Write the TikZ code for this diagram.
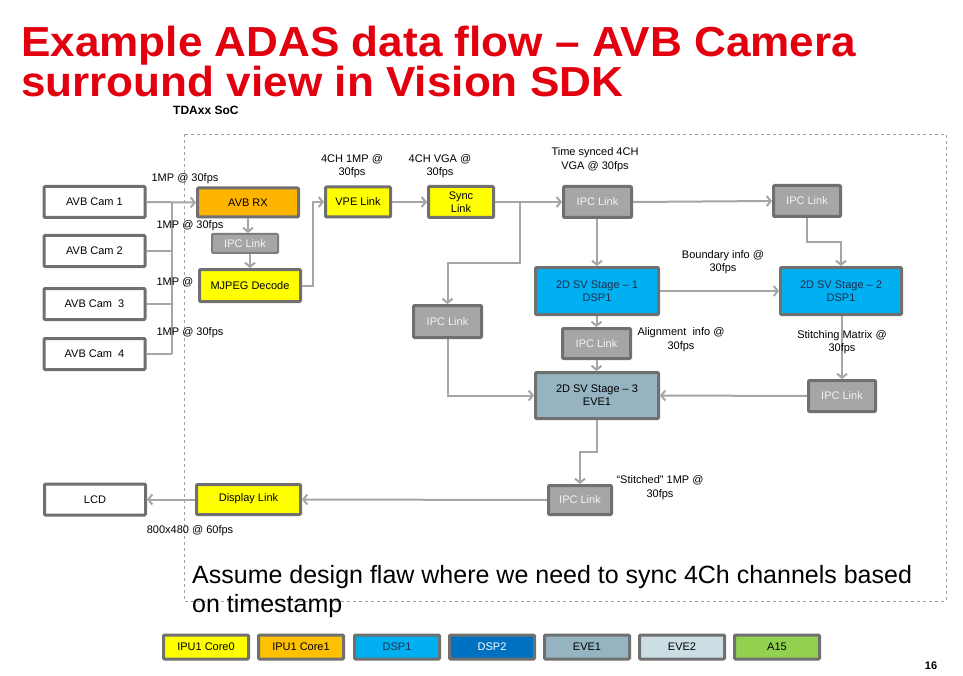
\documentclass[tikz,border=0pt]{standalone}
\usepackage{fontspec}
\setmainfont{Liberation Sans}
\usetikzlibrary{arrows.meta,calc}
\definecolor{bordc}{HTML}{707070}
\definecolor{ipcfill}{HTML}{A6A6A6}
\definecolor{ipctext}{HTML}{F2F2F2}
\definecolor{arrc}{HTML}{A6A6A6}
\definecolor{yel}{HTML}{FFFF00}
\definecolor{orng}{HTML}{FFB400}
\definecolor{orngl}{HTML}{FFC000}
\definecolor{cyanb}{HTML}{00B0F0}
\definecolor{blueb}{HTML}{0070C0}
\definecolor{eveone}{HTML}{95B3C1}
\definecolor{evetwo}{HTML}{CCDDE3}
\definecolor{agreen}{HTML}{92D050}
\definecolor{navyt}{HTML}{1F2F50}
\definecolor{titred}{HTML}{E2000F}
\definecolor{dashc}{HTML}{A0A0A0}
\newcommand\myfs[2]{\fontsize{#1}{#2}\selectfont}
\begin{document}
\begin{tikzpicture}[x=1pt,y=-1pt,
  box/.style={draw=bordc, line width=3pt, rounded corners=1pt, inner sep=0pt,
    font=\myfs{11}{13}, align=center, text=black},
  camb/.style={box, fill=white, minimum width=101pt, minimum height=31pt},
  ipc/.style={box, fill=ipcfill, text=ipctext},
  yelb/.style={box, fill=yel},
  dspb/.style={box, fill=cyanb, text=navyt},
  leg/.style={box, minimum width=85pt, minimum height=24pt},
  conn/.style={draw=arrc, line width=2pt, -{Straight Barb[length=4pt,width=10pt]}},
  wire/.style={draw=arrc, line width=2pt},
  lbl/.style={font=\myfs{11}{13.5}, align=center, inner sep=0pt}]
\useasboundingbox (0,0) rectangle (963,676);
\fill[white] (0,0) rectangle (963,676);

% title
\node[anchor=base west, inner sep=0pt, text=titred] (t1) at (21,57)
  {\scalebox{1.05}[1]{\myfs{42}{46}\bfseries Example ADAS data flow – AVB Camera}};
\node[anchor=base west, inner sep=0pt, text=titred] (t2) at (21,97)
  {\scalebox{1.05}[1]{\myfs{42}{46}\bfseries surround view in Vision SDK}};
\node[anchor=base west, inner sep=0pt, font=\myfs{12}{14}\bfseries] (soc) at (173,115) {TDAxx SoC};

% SoC boundary
\draw[dashc, dashed, line width=0.6pt] (184,134) rectangle (946,601);

% nodes
\node[camb] (cam1) at (94.5,202) {AVB Cam 1};
\node[camb] (cam2) at (94.5,251) {AVB Cam 2};
\node[camb] (cam3) at (94.5,304) {AVB Cam\ \ 3};
\node[camb] (cam4) at (94.5,354) {AVB Cam\ \ 4};
\node[box, fill=orng, minimum width=101pt, minimum height=29pt] (avbrx) at (248,202.5) {AVB RX};
\node[ipc, line width=2pt, draw=bordc!90, minimum width=66pt, minimum height=19pt] (ipcs) at (245,243.5) {IPC Link};
\node[yelb, minimum width=101pt, minimum height=32pt] (mjpeg) at (250,285.5) {MJPEG Decode};
\node[yelb, minimum width=65pt, minimum height=30pt] (vpe) at (358,202) {VPE Link};
\node[yelb, minimum width=65pt, minimum height=31pt] (sync) at (461,202) {Sync\\Link};
\node[ipc, minimum width=68pt, minimum height=31pt] (ipc1) at (597.5,202) {IPC Link};
\node[ipc, minimum width=67pt, minimum height=31pt] (ipc2) at (807,201) {IPC Link};
\node[dspb, minimum width=123pt, minimum height=47pt] (sv1) at (597,291) {2D SV Stage – 1\\DSP1};
\node[dspb, minimum width=121pt, minimum height=47pt] (sv2) at (841,291) {2D SV Stage – 2\\DSP1};
\node[ipc, minimum width=68pt, minimum height=32pt] (ipcl) at (447.5,321.5) {IPC Link};
\node[ipc, minimum width=68pt, minimum height=30pt] (ipcm) at (596.5,343.5) {IPC Link};
\node[box, fill=eveone, minimum width=123pt, minimum height=46pt] (sv3) at (597,395.5) {2D SV Stage – 3\\EVE1};
\node[ipc, minimum width=67pt, minimum height=31pt] (ipcr) at (842,396) {IPC Link};
\node[ipc, minimum width=63pt, minimum height=29pt] (ipcb) at (580,500) {IPC Link};
\node[yelb, minimum width=104pt, minimum height=30pt] (disp) at (248.5,499.5) {\raisebox{4pt}{Display Link}};
\node[camb] (lcd) at (95,499.5) {LCD};

% camera bus
\coordinate (bt) at (172,202);
\coordinate (bb) at (172,354);
\draw[conn] (cam1.east) -- (avbrx.west);
\draw[wire] (bt) -- (bb);
\draw[wire] (cam2.east) -- (cam2.east -| bt);
\draw[wire] (cam3.east) -- (cam3.east -| bt);
\draw[wire] (cam4.east) -- (cam4.east -| bt);

\draw[conn] (avbrx.south) -- (avbrx.south |- ipcs.north);
\draw[conn] (ipcs.south -| mjpeg.north) -- (mjpeg.north);
\draw[conn] (mjpeg.east) -- ++(11,0) |- (vpe.west);
\draw[conn] (vpe.east) -- (sync.west);
\draw[conn] (sync.east) -- (ipc1.west);
\coordinate (br) at (520,202);
\draw[conn] (br) -- (520,263) -| (ipcl.north);
\draw[conn] (ipc1.south -| sv1.north) -- (sv1.north);
\draw[conn] (ipc1.east) -- (ipc2.west);
\draw[conn] (ipc2.south) -- ++(0,24) -| (sv2.north);
\draw[conn] (sv1.east) -- (sv2.west);
\draw[conn] (sv1.south -| ipcm.north) -- (ipcm.north);
\draw[conn] (ipcm.south) -- (ipcm.south |- sv3.north);
\draw[conn] (ipcl.south) |- (sv3.west);
\draw[conn] (sv2.south -| ipcr.north) -- (ipcr.north);
\draw[conn] (ipcr.west) -- (sv3.east);
\draw[conn] (sv3.south) -- ++(0,32) -| (ipcb.north);
\draw[conn] (ipcb.west) -- (disp.east);
\draw[conn] (disp.west) -- (lcd.east);

% labels
\node[lbl] (la1) at (185,179) {1MP @ 30fps};
\node[lbl] (la2) at (190,226) {1MP @ 30fps};
\node[lbl] (la3) at (175,282) {1MP @};
\node[lbl] (la4) at (190,333) {1MP @ 30fps};
\node[lbl] (la5) at (352,166) {4CH 1MP @\\30fps};
\node[lbl] (la6) at (440,166) {4CH VGA @\\30fps};
\node[lbl] (la7) at (595,159.5) {Time synced 4CH\\VGA @ 30fps};
\node[lbl] (la8) at (723,262) {Boundary info @\\30fps};
\node[lbl] (la9) at (681,339.5) {Alignment\ \ info @\\30fps};
\node[lbl] (la10) at (842,342) {Stitching Matrix @\\30fps};
\node[lbl] (la11) at (660,487.5) {“Stitched” 1MP @\\30fps};
\node[lbl] (la12) at (190,531) {800x480 @ 60fps};

% note (base anchor = baseline of last line)
\node[anchor=base west, inner sep=0pt, align=left, font=\myfs{25}{29}] (note) at (192,612)
  {Assume design flaw where we need to sync 4Ch channels based\\on timestamp};

% legend
\node[leg, fill=yel] (g1) at (206,647) {IPU1 Core0};
\node[leg, fill=orngl] (g2) at (301,647) {IPU1 Core1};
\node[leg, fill=cyanb, text=navyt] (g3) at (397,647) {DSP1};
\node[leg, fill=blueb, text=white] (g4) at (492,647) {DSP2};
\node[leg, fill=eveone] (g5) at (587,647) {EVE1};
\node[leg, fill=evetwo] (g6) at (682,647) {EVE2};
\node[leg, fill=agreen] (g7) at (777,647) {A15};
\node[inner sep=0pt, font=\myfs{11}{13}\bfseries] (pg) at (931,666) {16};
\end{tikzpicture}
\end{document}
